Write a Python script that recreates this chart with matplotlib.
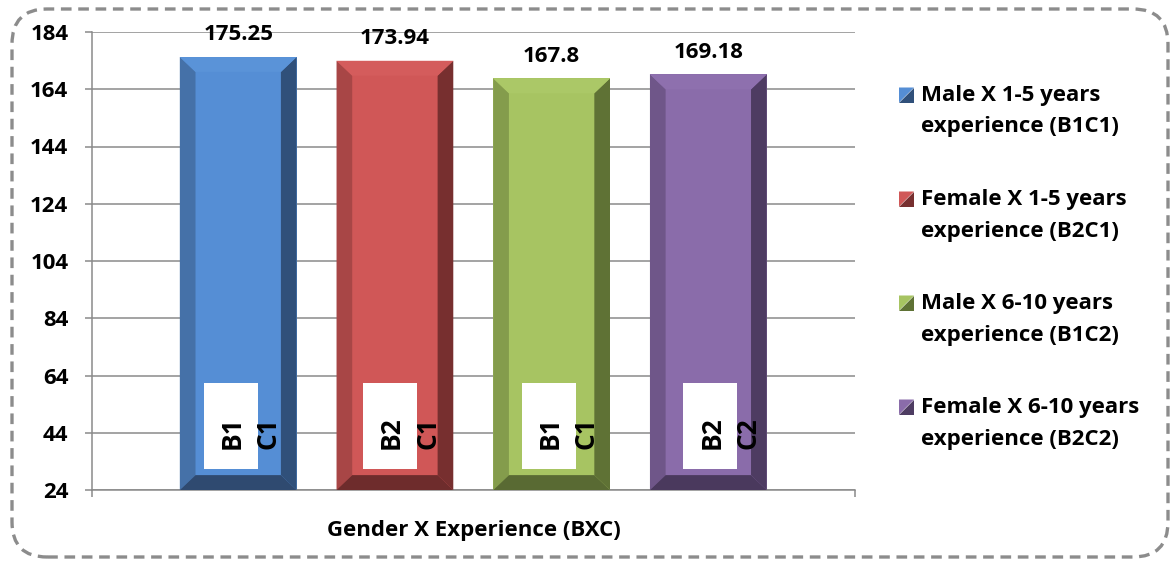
import matplotlib
matplotlib.use("Agg")
import matplotlib.pyplot as plt
from matplotlib.patches import Polygon, Rectangle, FancyBboxPatch

plt.rcParams['font.family'] = ['Open Sans', 'DejaVu Sans']
plt.rcParams['font.weight'] = 'bold'

# data
groups = ['B1C1', 'B2C1', 'B1C2', 'B2C2']
means = [175.25, 173.94, 167.8, 169.18]
value_labels = ['175.25', '173.94', '167.8', '169.18']
b_labels = ['B1', 'B2', 'B1', 'B2']
c_labels = ['C1', 'C1', 'C1', 'C2']
legend_lines = [
    ('Male X 1-5 years', 'experience (B1C1)'),
    ('Female X 1-5 years', 'experience (B2C1)'),
    ('Male X 6-10 years', 'experience (B1C2)'),
    ('Female X 6-10 years', 'experience (B2C2)'),
]
y_ticks = [24, 44, 64, 84, 104, 124, 144, 164, 184]
x_title = 'Gender X Experience (BXC)'

# front, left side, right side, bottom, top
shades = [
    ('#558ed5', '#4571a8', '#30507a', '#2f4a70', '#5a93d8'),
    ('#d05757', '#a84646', '#772f2f', '#6e2c2c', '#d45c5c'),
    ('#a7c462', '#849c4c', '#5f7235', '#596a33', '#abc867'),
    ('#8a6caa', '#6f5689', '#4e3c62', '#4a395d', '#8e70ae'),
]
box_shift = [-0.048, -0.032, -0.019, 0.013]

W, H = 1171, 561
fig = plt.figure(figsize=(W / 100, H / 100), dpi=100)

def fx(px):
    return px / W

def fy(py):
    return 1 - py / H

ax = fig.add_axes([fx(92), fy(490), fx(855) - fx(92), fy(32) - fy(490)])
ybase, ytop = y_ticks[0], y_ticks[-1]
ax.set_ylim(ybase, ytop)
ax.set_xlim(-0.933, 3.936)

grid_c = '#8a8a8a'
ax.set_yticks(y_ticks)
ax.yaxis.grid(True, color=grid_c, lw=1.1, zorder=0)
ax.set_axisbelow(True)
for s in ['top', 'right']:
    ax.spines[s].set_visible(False)
for s in ['left', 'bottom']:
    ax.spines[s].set_color(grid_c)
    ax.spines[s].set_linewidth(1.1)
ax.set_xticks(ax.get_xlim())
ax.set_xticklabels([])
ax.tick_params(axis='both', direction='out', length=5, width=1.1, color=grid_c)
ax.tick_params(axis='y', labelsize=16, pad=12)
for t in ax.get_yticklabels():
    t.set_fontweight('bold')

width = 0.745
dx, dy = 0.10, 5.2
xs = list(range(len(means)))

bars = ax.bar(xs, means, width=width, color=[s[0] for s in shades], zorder=2)

for i, (x, v) in enumerate(zip(xs, means)):
    front, left, right, bottom, top = shades[i]
    x0, x1 = x - width / 2, x + width / 2
    faces = [
        ([(x0, ybase), (x0, v), (x0 + dx, v - dy), (x0 + dx, ybase + dy)], left),
        ([(x1, ybase), (x1, v), (x1 - dx, v - dy), (x1 - dx, ybase + dy)], right),
        ([(x0, v), (x1, v), (x1 - dx, v - dy), (x0 + dx, v - dy)], top),
        ([(x0, ybase), (x1, ybase), (x1 - dx, ybase + dy), (x0 + dx, ybase + dy)], bottom),
    ]
    for pts, c in faces:
        ax.add_patch(Polygon(pts, closed=True, facecolor=c, edgecolor='none', zorder=3))

    ax.annotate(value_labels[i], (x, v), xytext=(0, 16), textcoords='offset points',
                ha='center', va='center', fontsize=16, fontweight='bold')

    bc = x + box_shift[i]
    ax.add_patch(Rectangle((bc - 0.172, 31.5), 0.344, 30, facecolor='white',
                           edgecolor='none', zorder=4))
    ax.text(bc + 0.01, 44, b_labels[i], rotation=90, ha='center', va='center',
            fontsize=19, fontweight='bold', zorder=5)
    ax.text(bc + 0.24, 44, c_labels[i], rotation=90, ha='center', va='center',
            fontsize=19, fontweight='bold', zorder=5)

ax.set_xlabel(x_title, fontsize=16, fontweight='bold', labelpad=13)

# legend drawn by hand so the marker sits on the first line
for i, (l1, l2) in enumerate(legend_lines):
    yc = 95 + i * 104
    front, left, right, bottom, top = shades[i]
    sx0, sx1 = 899, 914
    sy0, sy1 = yc - 7.5, yc + 7.5
    fig.add_artist(Polygon([(fx(sx0), fy(sy0)), (fx(sx1), fy(sy0)), (fx(sx0), fy(sy1))],
                           closed=True, transform=fig.transFigure, facecolor=front,
                           edgecolor='none'))
    fig.add_artist(Polygon([(fx(sx1), fy(sy0)), (fx(sx1), fy(sy1)), (fx(sx0), fy(sy1))],
                           closed=True, transform=fig.transFigure, facecolor=right,
                           edgecolor='none'))
    fig.text(fx(921), fy(yc), l1, ha='left', va='center', fontsize=16, fontweight='bold')
    fig.text(fx(921), fy(yc + 32), l2, ha='left', va='center', fontsize=16, fontweight='bold')

# dashed rounded frame
frame = FancyBboxPatch((fx(12), fy(557)), fx(1168) - fx(12), fy(9) - fy(557),
                       boxstyle='round,pad=0,rounding_size=0.03',
                       transform=fig.transFigure, facecolor='none', edgecolor='#8c8c8c',
                       lw=2.4, linestyle=(0, (3.2, 2.0)), mutation_aspect=W / H)
fig.add_artist(frame)

fig.savefig('out.png', dpi=100)
